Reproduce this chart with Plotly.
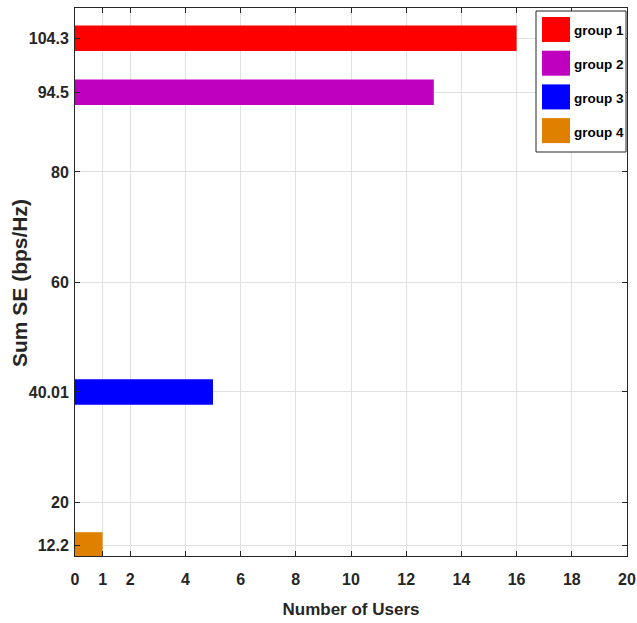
import plotly.graph_objects as go

groups = ["group 1", "group 2", "group 3", "group 4"]
sum_se = [104.3, 94.5, 40.01, 12.2]
users = [16, 13, 5, 1]
colors = ["#ff0000", "#bf00bf", "#0000ff", "#e08000"]
x_ticks = [0, 1, 2, 4, 6, 8, 10, 12, 14, 16, 18, 20]
y_ticks = [12.2, 20, 40.01, 60, 80, 94.5, 104.3]
y_tick_text = ["12.2", "20", "40.01", "60", "80", "94.5", "104.3"]
x_title = "Number of Users"
y_title = "Sum SE (bps/Hz)"

FONT = "Liberation Sans, Arial, sans-serif"

fig = go.Figure()
for g, y, x, c in zip(groups, sum_se, users, colors):
    fig.add_trace(go.Bar(x=[x], y=[y], orientation="h", width=4.65,
                         marker=dict(color=c, line=dict(width=0)),
                         name=g, showlegend=False))

# custom legend box
fig.add_shape(type="rect", xref="paper", yref="paper",
              x0=(536 - 75) / 552, x1=(626 - 75) / 552,
              y0=(556 - 152) / 548, y1=(556 - 11) / 548,
              line=dict(color="#262626", width=1), fillcolor="white", layer="above")
for i, (g, c) in enumerate(zip(groups, colors)):
    top = 17 + i * 33.7
    fig.add_shape(type="rect", xref="paper", yref="paper",
                  x0=(542 - 75) / 552, x1=(570 - 75) / 552,
                  y0=(556 - (top + 25)) / 548, y1=(556 - top) / 548,
                  line=dict(width=0), fillcolor=c, layer="above")
    fig.add_annotation(xref="paper", yref="paper", x=(572 - 75) / 552,
                       y=(556 - (top + 14)) / 548, text="<b>%s</b>" % g,
                       showarrow=False, xanchor="left", yanchor="middle",
                       font=dict(family=FONT, size=13.5, color="black"))

# y-axis title as rotated text
fig.add_annotation(xref="paper", yref="paper", x=(19 - 75) / 552,
                   y=(556 - 283) / 548, text="<b>%s</b>" % y_title,
                   textangle=-90, showarrow=False, xanchor="center", yanchor="middle",
                   font=dict(family=FONT, size=21, color="#262626"))

axis_common = dict(showline=True, linecolor="#262626", linewidth=1, mirror="ticks",
                   ticks="inside", ticklen=5, tickcolor="#262626",
                   showgrid=True, gridcolor="#e0e0e0", gridwidth=1, zeroline=False,
                   automargin=False,
                   tickfont=dict(family=FONT, size=16, color="#262626"))

fig.update_layout(
    width=637, height=623,
    margin=dict(l=75, r=10, t=8, b=67),
    paper_bgcolor="white", plot_bgcolor="white",
    barmode="overlay",
    font=dict(family=FONT),
    xaxis=dict(range=[0, 20.0001], tickvals=x_ticks,
               ticktext=["<b>%d</b>" % v for v in x_ticks],
               ticklabelstandoff=9,
               title=dict(text="<b>%s</b>" % x_title, standoff=15,
                          font=dict(family=FONT, size=17, color="#262626")),
               **axis_common),
    yaxis=dict(range=[10.2, 109.8], tickvals=y_ticks,
               ticktext=["<b>%s</b>" % t for t in y_tick_text],
               ticklabelstandoff=2,
               **axis_common),
)

fig.write_html("out.html")
